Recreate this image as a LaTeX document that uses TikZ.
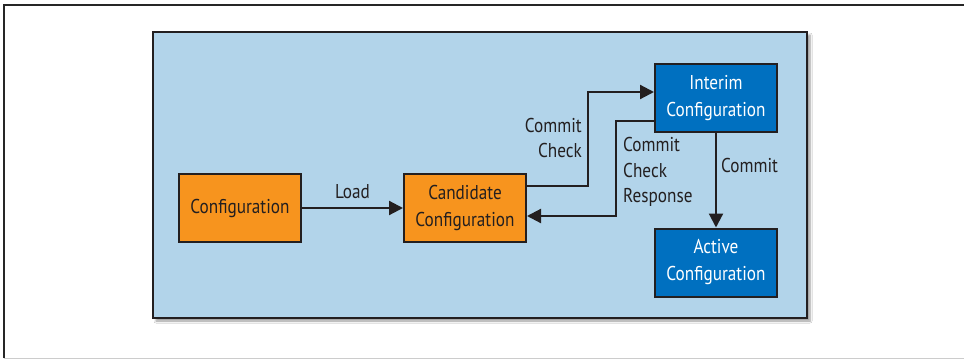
\documentclass[tikz,border=0pt]{standalone}
\usepackage{fontspec}
\setmainfont{PT Sans}[FakeStretch=0.86]
\usetikzlibrary{arrows.meta,shadows.blur}
\definecolor{bgblue}{RGB}{178,212,234}
\definecolor{orng}{RGB}{247,148,30}
\definecolor{dblue}{RGB}{0,112,192}
\definecolor{edge}{RGB}{35,31,32}
\begin{document}
\begin{tikzpicture}[x=1pt,y=-1pt,
  box/.style={draw=edge,line width=2pt,minimum width=122pt,minimum height=68pt,inner sep=0pt,align=center,font=\fontsize{20}{27}\selectfont},
  obox/.style={box,fill=orng,text=edge},
  bbox/.style={box,fill=dblue,text=white},
  lbl/.style={font=\fontsize{20}{25.5}\selectfont,text=edge,inner sep=0pt},
  conn/.style={draw=edge,line width=2.2pt,-{Triangle[length=14pt,width=14pt]}}]
\useasboundingbox (0,0) rectangle (964,359);
\fill[white] (0,0) rectangle (964,359);
\draw[line width=1.2pt,black!85] (4,358) -- (4,5) -- (964,5);
\draw[line width=1pt,black!20] (4,358) -- (964,358);
\node[draw=edge,line width=2.5pt,fill=bgblue,minimum width=654pt,minimum height=286pt,inner sep=0pt,
  blur shadow={shadow xshift=3pt,shadow yshift=-3pt,shadow blur steps=6,shadow blur extra rounding=0pt}] (bg) at (480,175) {};
\node[obox] (conf) at (240,208) {Configuration};
\node[obox] (cand) at (465,208) {Candidate\\Configuration};
\node[bbox] (interim) at (716,98) {Interim\\Configuration};
\node[bbox] (active) at (716,262.5) {Active\\Configuration};
\draw[conn] (conf) -- node[lbl,above=8pt] (load) {Load} (cand);
\draw[conn] ([yshift=22pt]cand.east) -- ++(61,0) |- ([yshift=6pt]interim.west);
\draw[conn] ([yshift=-23pt]interim.west) -- ++(-38,0) |- ([yshift=-8pt]cand.east);
\draw[conn] (interim) -- (active);
\node[lbl,align=right,anchor=east] (cc) at (582,138) {Commit\\Check};
\node[lbl,align=left,anchor=west] (ccr) at (623,172) {Commit\\Check\\Response};
\node[lbl,anchor=west] (commit) at (721,165) {Commit};
\end{tikzpicture}
\end{document}
